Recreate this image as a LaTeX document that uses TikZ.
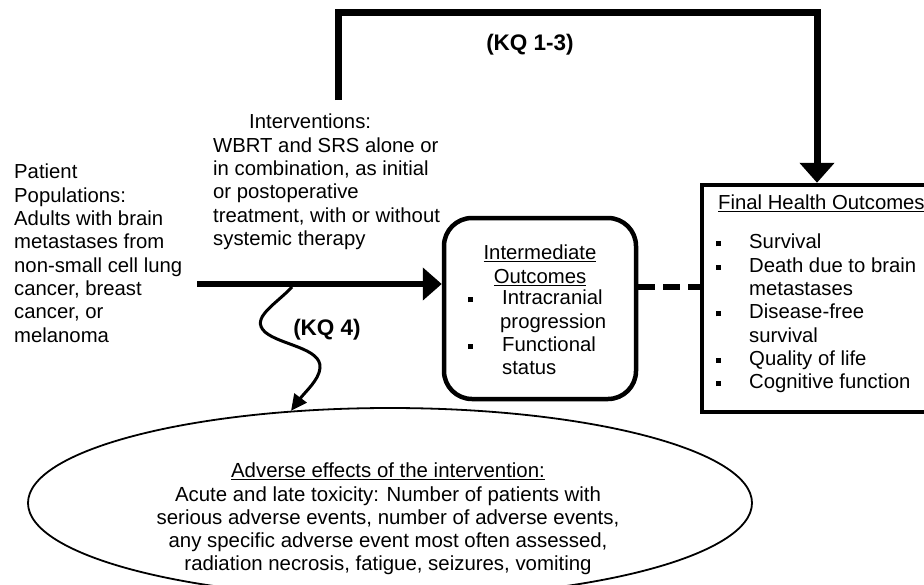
\documentclass[tikz,border=0pt]{standalone}
\usepackage{fontspec}
\setmainfont{Liberation Sans}
\usetikzlibrary{arrows.meta,shapes.geometric}

\newcommand{\sqbul}{\rule[2.5pt]{5pt}{5pt}}
\newcommand{\bulline}[1]{\makebox[33pt][l]{\sqbul}#1}

\begin{document}
\begin{tikzpicture}[x=1pt,y=-1pt,
	txt/.style={inner sep=0pt, align=left, font=\fontsize{20.3}{23.3}\selectfont},
	kq/.style={inner sep=0pt, font=\fontsize{22.5}{26}\selectfont\bfseries},
	ibox/.style={draw, line width=4.5pt, rounded corners=28pt, minimum width=192pt, minimum height=181pt},
	fbox/.style={draw, line width=4.5pt, minimum width=230pt, minimum height=227pt},
	ell/.style={ellipse, draw, line width=1.8pt, minimum width=724pt, minimum height=190pt, inner sep=0pt},
	fat/.style={line width=6.5pt, -{Triangle[length=19pt,width=32pt]}},
	toparrow/.style={line width=7pt, -{Triangle[length=20pt,width=34pt]}},
	wavy/.style={line width=3pt, -{Triangle[length=16pt,width=15pt]}},
	dashline/.style={line width=5.5pt, dash pattern=on 17pt off 8pt}]
	\useasboundingbox (0,0) rectangle (924,584);
	\clip (0,0) rectangle (924,584);
	\node[txt, anchor=north west] (POP) at (14,164) {Patient\\Populations:\\Adults with brain\\metastases from\\non-small cell lung\\cancer, breast\\cancer, or\\melanoma};
	\node[txt, anchor=north west] (INT) at (213,114) {\hspace*{36pt}Interventions:\\WBRT and SRS alone or\\in combination, as initial\\or postoperative\\treatment, with or without\\systemic therapy};
	\node[ibox] (IM) at (540,308.5) {};
	\node[txt, align=center, anchor=north] (IMH) at (540,245) {\underline{Intermediate}\\\underline{Outcomes}};
	\node[txt, anchor=north west] (IML) at (468,290) {\makebox[34pt][l]{\sqbul}Intracranial\\\hspace*{32pt}progression\\\makebox[34pt][l]{\sqbul}Functional\\\hspace*{34pt}status};
	\node[fbox] (FIN) at (817,298.5) {};
	\node[txt, anchor=north west] (FH) at (718,195) {\underline{Final Health Outcomes}};
	\node[txt, anchor=north west] (FL) at (716,234) {\bulline{Survival}\\\bulline{Death due to brain}\\\hspace*{33pt}metastases\\\bulline{Disease-free}\\\hspace*{33pt}survival\\\bulline{Quality of life}\\\bulline{Cognitive function}};
	\node[ell] (ADV) at (390,503) {};
	\node[txt, align=center, font=\fontsize{20.4}{23.25}\selectfont] (ADVT) at (388,519) {\underline{Adverse effects of the intervention:}\\Acute and late toxicity: Number of patients with\\serious adverse events, number of adverse events,\\any specific adverse event most often assessed,\\radiation necrosis, fatigue, seizures, vomiting};
	\node[kq] (KQA) at (530,45) {(KQ 1-3)};
	\node[kq] (KQB) at (327,330) {(KQ 4)};
	\coordinate (TS) at (338,100);
	\coordinate (MS) at (197,284);
	\coordinate (WS) at (292,287);
	\draw[toparrow] (TS) -- (TS |- 0,12) -| (FIN.north);
	\draw[fat] (MS) -- (MS -| IM.west);
	\draw[dashline] (IM.east |- 0,287) -- (FIN.west |- 0,287);
	\draw[wavy] (WS) .. controls (275,305) and (250,318) .. (265,332) .. controls (280,345) and (322,348) .. (320,368) .. controls (319,380) and (305,392) .. (ADV.137);
\end{tikzpicture}
\end{document}
